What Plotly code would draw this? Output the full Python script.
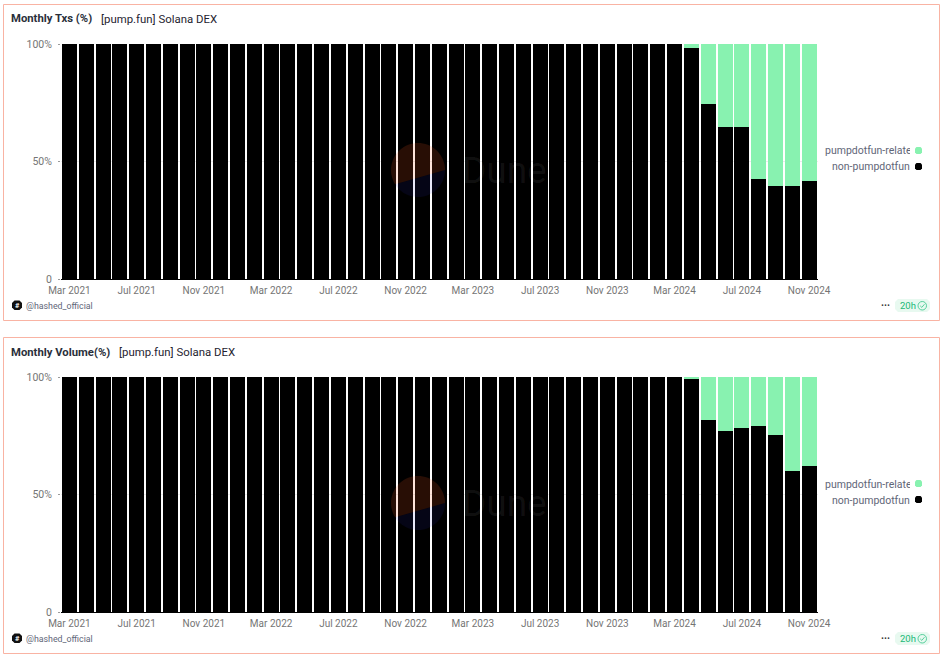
import math
import plotly.graph_objects as go

W, H = 943, 657
months = ["Jan", "Feb", "Mar", "Apr", "May", "Jun", "Jul", "Aug", "Sep", "Oct", "Nov", "Dec"]
categories = [f"{months[(2 + i) % 12]} {2021 + (2 + i) // 12}" for i in range(45)]
tick_labels = ["Mar 2021", "Jul 2021", "Nov 2021", "Mar 2022", "Jul 2022", "Nov 2022",
               "Mar 2023", "Jul 2023", "Nov 2023", "Mar 2024", "Jul 2024", "Nov 2024"]

tx_non_pump = [100] * 37 + [98.4, 74.5, 64.7, 64.7, 42.5, 39.6, 39.6, 41.7]
tx_pump = [0] * 37 + [1.6, 25.5, 35.3, 35.3, 57.5, 60.4, 60.4, 58.3]
vol_non_pump = [100] * 37 + [99.2, 81.7, 77.0, 78.3, 79.1, 75.3, 60.0, 62.0]
vol_pump = [0] * 37 + [0.8, 18.3, 23.0, 21.7, 20.9, 24.7, 40.0, 38.0]

BLACK, GREEN = "#000000", "#88f2b0"
BORDER = "#f9b3a3"
FONT = "Roboto"
GRAY = "#757575"
PANEL_OFFSET = 333


def px(x):
    return x / W


def py(y):
    return 1 - y / H


def xy(x, y):
    return f"{px(x):.5f} {py(y):.5f}"


def rect(x0, y0, x1, y1, **kw):
    return dict(type="rect", xref="paper", yref="paper", x0=px(x0), x1=px(x1), y0=py(y0), y1=py(y1), **kw)


def circle(x0, y0, x1, y1, **kw):
    return dict(type="circle", xref="paper", yref="paper", x0=px(x0), x1=px(x1), y0=py(y0), y1=py(y1), **kw)


def rrect(x0, y0, x1, y1, r, fill, layer="above"):
    p = (f"M {xy(x0 + r, y0)} L {xy(x1 - r, y0)} L {xy(x1, y0 + r)} L {xy(x1, y1 - r)} "
         f"L {xy(x1 - r, y1)} L {xy(x0 + r, y1)} L {xy(x0, y1 - r)} L {xy(x0, y0 + r)} Z")
    return dict(type="path", xref="paper", yref="paper", path=p, fillcolor=fill, line_width=0, layer=layer)


def note(x, y, text, size=10, color=GRAY, xanchor="left", **kw):
    return dict(xref="paper", yref="paper", x=px(x), y=py(y), text=text, showarrow=False,
                font=dict(family=FONT, size=size, color=color), xanchor=xanchor, yanchor="middle",
                borderpad=0, **kw)


def segment(cx, cy, r, start_deg, end_deg, fill, n=40):
    sa, ea = math.radians(start_deg), math.radians(end_deg)
    pts = [(cx + r * math.cos(sa + (ea - sa) * i / n), cy + r * math.sin(sa + (ea - sa) * i / n))
           for i in range(n + 1)]
    path = "M " + " L ".join(xy(a, b) for a, b in pts) + " Z"
    return dict(type="path", xref="paper", yref="paper", path=path, fillcolor=fill, line_width=0, layer="above")


fig = go.Figure()
shapes, annotations = [], []
panels = [
    ("Monthly Txs (%)", "[pump.fun] Solana DEX", tx_non_pump, tx_pump, 0, "x", "y", 99.5),
    ("Monthly Volume(%)", "[pump.fun] Solana DEX", vol_non_pump, vol_pump, PANEL_OFFSET, "x2", "y2", 118),
]

for title, sub, non_pump, pump, dy, xa, ya, subx in panels:
    fig.add_bar(x=categories, y=non_pump, name="non-pumpdotfun", marker_color=BLACK, marker_line_width=0,
                xaxis=xa, yaxis=ya, showlegend=False)
    fig.add_bar(x=categories, y=pump, name="pumpdotfun-related", marker_color=GREEN, marker_line_width=0,
                xaxis=xa, yaxis=ya, showlegend=False)

    shapes.append(rect(3.5, 4.5 + dy, 939.5, 320.5 + dy, line=dict(color=BORDER, width=1),
                       fillcolor="rgba(0,0,0,0)", layer="below"))
    annotations.append(note(9.5, 19 + dy, f"<b>{title}</b>", size=11.3, color="#2a2f3a"))
    annotations.append(note(subx, 19 + dy, sub, size=11.4, color="#1f2430"))

    # legend
    shapes.append(rrect(915, 147 + dy, 922, 154 + dy, 1.5, GREEN))
    shapes.append(rrect(915, 163 + dy, 922, 170 + dy, 1.5, BLACK))
    annotations.append(note(910.5, 151 + dy, "pumpdotfun-related", size=10.5, color="#5f6678", xanchor="right",
                            width=85, align="left"))
    annotations.append(note(910.5, 167 + dy, "non-pumpdotfun", size=10.5, color="#5f6678", xanchor="right"))

    # watermark
    cx, cy, r = 418, 170 + dy, 27
    shapes.append(segment(cx, cy, r, 148, -0, "rgba(50,50,200,0.11)"))
    shapes.append(segment(cx, cy, r, 148, 360, "rgba(250,90,30,0.16)"))
    annotations.append(note(461, 170 + dy, "Dune", size=37, color="rgba(255,255,255,0.07)"))

    # footer
    shapes.append(rrect(12, 300.5 + dy, 22, 310 + dy, 2.5, "#111111"))
    annotations.append(note(17, 305.5 + dy, "<b>#</b>", size=7.5, color="#ffffff", xanchor="center"))
    annotations.append(note(25, 305.5 + dy, "@hashed_official", size=8.8, color="#5f6678"))
    annotations.append(note(885, 305 + dy, "<b>···</b>", size=10, color="#333333", xanchor="center"))
    shapes.append(rrect(895, 299 + dy, 930, 312 + dy, 3, "#e8f9f0", layer="below"))
    annotations.append(note(899, 305.5 + dy, "20h", size=9.5, color="#18b876"))
    shapes.append(circle(918, 301.5 + dy, 926.5, 310 + dy, line=dict(color="#55cf9b", width=1),
                         fillcolor="rgba(0,0,0,0)"))
    shapes.append(dict(type="path", xref="paper", yref="paper",
                       path=f"M {xy(920.2, 305.8 + dy)} L {xy(921.8, 307.4 + dy)} L {xy(924.5, 304.2 + dy)}",
                       line=dict(color="#55cf9b", width=1)))

axis_x = dict(range=[-0.5, 44.5], type="category", categoryorder="array", categoryarray=categories,
              tickmode="array", tickvals=tick_labels, ticktext=tick_labels, ticks="", showgrid=False,
              showline=True, linecolor="#000000", linewidth=1, zeroline=False, automargin=False,
              ticklabelstandoff=2,
              tickfont=dict(family=FONT, size=10, color=GRAY), domain=[px(61), px(817.5)])
axis_y = dict(range=[0, 100], tickmode="array", tickvals=[0, 50, 100], ticktext=["0", "50%", "100%"],
              ticks="outside", ticklen=2, tickcolor="#9a9a9a", gridcolor="#ececec", showline=False,
              zeroline=False, automargin=False, ticklabelstandoff=4,
              tickfont=dict(family=FONT, size=10.5, color=GRAY))

fig.update_layout(
    width=W, height=H, margin=dict(l=0, r=0, t=0, b=0, autoexpand=False), barmode="stack", bargap=0.107,
    paper_bgcolor="#ffffff", plot_bgcolor="#ffffff", showlegend=False,
    xaxis=dict(axis_x, anchor="y"),
    yaxis=dict(axis_y, anchor="x", domain=[py(279), py(44)]),
    xaxis2=dict(axis_x, anchor="y2"),
    yaxis2=dict(axis_y, anchor="x2", domain=[py(279 + PANEL_OFFSET), py(44 + PANEL_OFFSET)]),
    shapes=shapes, annotations=annotations,
)
fig.write_html("out.html", post_script="document.body.style.margin='0';", config=dict(displayModeBar=False))
